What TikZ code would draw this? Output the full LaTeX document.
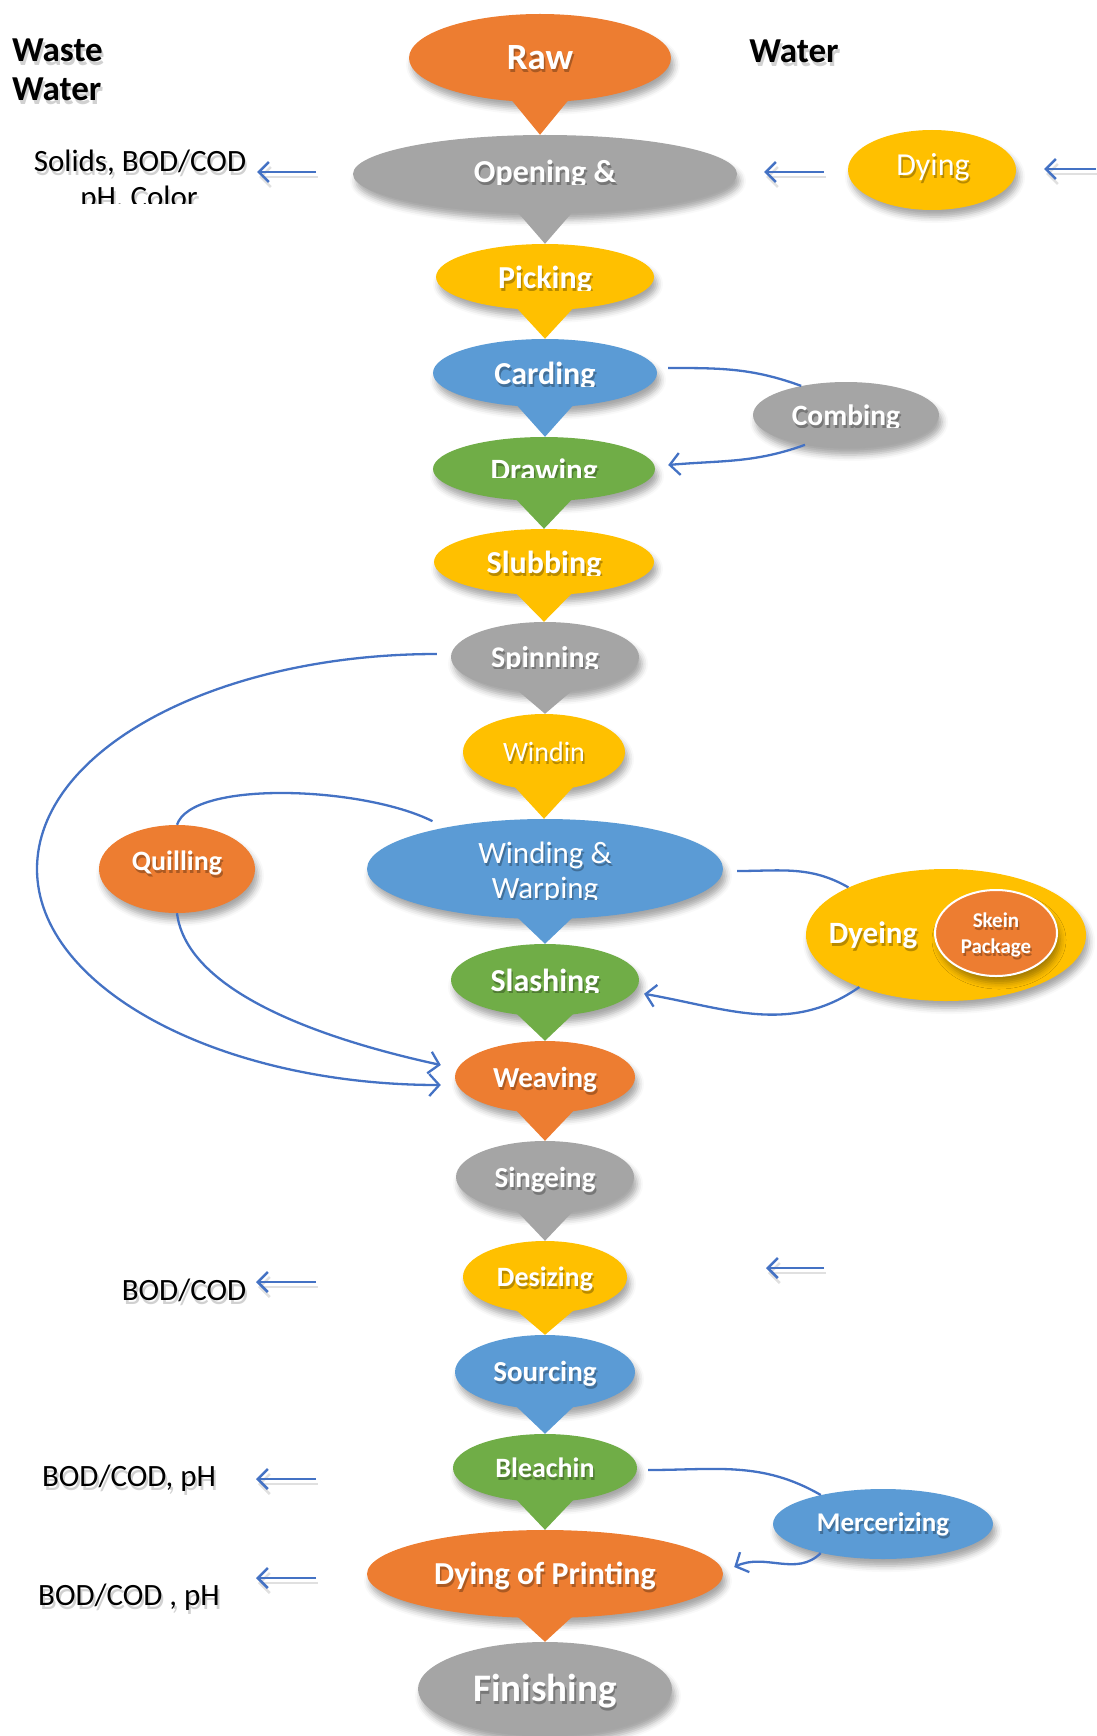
\documentclass[tikz,border=0pt]{standalone}
\usepackage{fontspec}
\setmainfont{Carlito}
\usetikzlibrary{shapes.geometric,arrows.meta,shadows.blur,calc}
\definecolor{cOrange}{HTML}{ED7D31}
\definecolor{cGray}{HTML}{A5A5A5}
\definecolor{cYellow}{HTML}{FFC000}
\definecolor{cBlue}{HTML}{5B9BD5}
\definecolor{cGreen}{HTML}{70AD47}
\definecolor{cLine}{HTML}{4472C4}
\newcommand{\fsz}[1]{\fontsize{#1pt}{#1pt}\selectfont}
% pointed tail from one process bubble down to the next
\newcommand{\tail}[3]{\fill[#3] ([shift={(-30,4)}]#1.south) -- ([shift={(30,4)}]#1.south) -- (#1.south |- #2.north) -- cycle;}
% white label with a soft dark shadow, cut off below a given height
% args: name, style, x, baseline y, cut y, text
\newcommand{\wlabel}[6]{%
  \begin{scope}
    \clip (#3-260,#4+80) rectangle (#3+260,#5);
    \node[wlab, #2, text=black, text opacity=0.28] (#1-sh) at (#3+1.5,#4-3) {#6};
    \node[wlab, #2] (#1) at (#3,#4) {#6};
  \end{scope}}
% black label with a grey shadow
\newcommand{\blabel}[6]{%
  \begin{scope}
    \clip (#3-300,#4+80) rectangle (#3+300,#5);
    \node[blab, #2, text=black!60, text opacity=0.3] (#1-sh) at (#3+2,#4-4) {#6};
    \node[blab, #2] (#1) at (#3,#4) {#6};
  \end{scope}}

\begin{document}
\begin{tikzpicture}[x=1pt,y=1pt,
  proc/.style={ellipse, inner sep=0pt,
    blur shadow={shadow xshift=3pt, shadow yshift=-7pt, shadow blur radius=6pt, shadow opacity=35}},
  wlab/.style={text=white, inner sep=0pt, anchor=base},
  blab/.style={text=black, inner sep=0pt, anchor=base},
  flow/.style={draw=cLine, line width=2.3pt},
  barb/.style={-{Straight Barb[length=10pt,width=22pt]}},
  shortarr/.style={draw=cLine, line width=2.5pt, -{Straight Barb[length=10pt,width=20pt]}},
]
\path[use as bounding box] (0,-1736) rectangle (1096,0);

% ---------- main process column ----------
\node[proc, fill=cOrange, minimum width=262, minimum height=88] (raw)       at (540,-58)   {};
\node[proc, fill=cGray,   minimum width=384, minimum height=78] (opening)   at (545,-174)  {};
\node[proc, fill=cYellow, minimum width=218, minimum height=66] (picking)   at (545,-277)  {};
\node[proc, fill=cBlue,   minimum width=224, minimum height=68] (carding)   at (545,-373)  {};
\node[proc, fill=cGreen,  minimum width=222, minimum height=64] (drawing)   at (544,-469)  {};
\node[proc, fill=cYellow, minimum width=220, minimum height=66] (slubbing)  at (544,-562)  {};
\node[proc, fill=cGray,   minimum width=188, minimum height=70] (spinning)  at (545,-657)  {};
\node[proc, fill=cYellow, minimum width=162, minimum height=76] (windin)    at (544,-752)  {};
\node[proc, fill=cBlue,   minimum width=356, minimum height=100] (winding)  at (545,-869)  {};
\node[proc, fill=cGreen,  minimum width=188, minimum height=72] (slashing)  at (545,-980)  {};
\node[proc, fill=cOrange, minimum width=180, minimum height=72] (weaving)   at (545,-1077) {};
\node[proc, fill=cGray,   minimum width=178, minimum height=72] (singeing)  at (545,-1177) {};
\node[proc, fill=cYellow, minimum width=164, minimum height=72] (desizing)  at (545,-1277) {};
\node[proc, fill=cBlue,   minimum width=180, minimum height=74] (sourcing)  at (545,-1372) {};
\node[proc, fill=cGreen,  minimum width=184, minimum height=68] (bleachin)  at (545,-1468) {};
\node[proc, fill=cOrange, minimum width=356, minimum height=88] (dyeprint)  at (545,-1574) {};
\node[proc, fill=cGray,   minimum width=254, minimum height=94] (finishing) at (545,-1689) {};

% ---------- side processes ----------
\node[proc, fill=cYellow, minimum width=168, minimum height=80] (dying)    at (932,-170)  {};
\node[proc, fill=cGray,   minimum width=186, minimum height=66] (combing)  at (846,-415)  {};
\node[proc, fill=cOrange, minimum width=156, minimum height=88] (quilling) at (177,-869)  {};
\node[proc, fill=cYellow, minimum width=280, minimum height=132] (dyeing)  at (946,-935)  {};
\node[proc, fill=cOrange, draw=white, line width=2pt, minimum width=122, minimum height=86] (skein) at (996,-933) {};
\node[proc, fill=cBlue,   minimum width=220, minimum height=70] (merc)     at (883,-1524) {};

% ---------- tails ----------
\tail{raw}{opening}{cOrange}
\tail{opening}{picking}{cGray}
\tail{picking}{carding}{cYellow}
\tail{carding}{drawing}{cBlue}
\tail{drawing}{slubbing}{cGreen}
\tail{slubbing}{spinning}{cYellow}
\tail{spinning}{windin}{cGray}
\tail{windin}{winding}{cYellow}
\tail{winding}{slashing}{cBlue}
\tail{slashing}{weaving}{cGreen}
\tail{weaving}{singeing}{cOrange}
\tail{singeing}{desizing}{cGray}
\tail{desizing}{sourcing}{cYellow}
\tail{sourcing}{bleachin}{cBlue}
\tail{bleachin}{dyeprint}{cGreen}
\tail{dyeprint}{finishing}{cOrange}

% ---------- labels in the bubbles ----------
\wlabel{raw-t}{font=\fsz{37}\bfseries}{540}{-70}{-200}{Raw}
\wlabel{opening-t}{font=\fsz{32}\bfseries}{545}{-183}{-185}{Opening \&}
\wlabel{picking-t}{font=\fsz{32}\bfseries}{545}{-288}{-290}{Picking}
\wlabel{carding-t}{font=\fsz{32}\bfseries}{545}{-384}{-386}{Carding}
\wlabel{drawing-t}{font=\fsz{31}\bfseries}{544}{-480}{-477}{Drawing}
\wlabel{slubbing-t}{font=\fsz{32}\bfseries}{544}{-573}{-575}{Slubbing}
\wlabel{spinning-t}{font=\fsz{30}\bfseries}{545}{-667}{-668}{Spinning}
\wlabel{windin-t}{font=\fsz{28}}{544}{-761}{-900}{Windin}
\wlabel{winding-t1}{font=\fsz{31}}{545}{-863}{-1000}{Winding \&}
\wlabel{winding-t2}{font=\fsz{31}}{545}{-898}{-899}{Warping}
\wlabel{slashing-t}{font=\fsz{32}\bfseries}{545}{-991}{-992}{Slashing}
\wlabel{weaving-t}{font=\fsz{29}\bfseries}{545}{-1087}{-1200}{Weaving}
\wlabel{singeing-t}{font=\fsz{29}\bfseries}{545}{-1187}{-1300}{Singeing}
\wlabel{desizing-t}{font=\fsz{28}\bfseries}{545}{-1286}{-1400}{Desizing}
\wlabel{sourcing-t}{font=\fsz{29}\bfseries}{545}{-1381}{-1500}{Sourcing}
\wlabel{bleachin-t}{font=\fsz{28}\bfseries}{545}{-1477}{-1600}{Bleachin}
\wlabel{dyeprint-t}{font=\fsz{32}\bfseries}{545}{-1584}{-1700}{Dying of Printing}
\wlabel{finishing-t}{font=\fsz{39}\bfseries}{545}{-1701}{-1800}{Finishing}

\wlabel{dying-t}{font=\fsz{32}}{933}{-176}{-300}{Dying}
\wlabel{combing-t}{font=\fsz{29.5}\bfseries}{846}{-425}{-427}{Combing}
\wlabel{quilling-t}{font=\fsz{28}\bfseries}{177}{-870}{-1000}{Quilling}
\wlabel{dyeing-t}{font=\fsz{31}\bfseries}{873}{-943}{-1100}{Dyeing}
\wlabel{skein-t1}{font=\fsz{21}\bfseries}{996}{-927}{-1100}{Skein}
\wlabel{skein-t2}{font=\fsz{21}\bfseries}{996}{-953}{-1100}{Package}
\wlabel{merc-t}{font=\fsz{27}\bfseries}{883}{-1531}{-1700}{Mercerizing}

% ---------- headings and effluent notes ----------
\blabel{waste1}{anchor=base west, font=\fsz{35}\bfseries}{12}{-62}{-200}{Waste}
\blabel{waste2}{anchor=base west, font=\fsz{35}\bfseries}{12}{-101}{-200}{Water}
\blabel{water}{font=\fsz{35}\bfseries}{794}{-63}{-200}{Water}

\blabel{solids}{font=\fsz{31}}{140}{-172}{-300}{Solids, BOD/COD}
\blabel{phcolor}{font=\fsz{31}}{139}{-208}{-204}{pH, Color}
\blabel{bod1}{font=\fsz{31}}{184}{-1300}{-1400}{BOD/COD}
\blabel{bod2}{font=\fsz{31}}{129}{-1486}{-1600}{BOD/COD, pH}
\blabel{bod3}{font=\fsz{31}}{129}{-1605}{-1700}{BOD/COD , pH}

% ---------- short inflow / outflow arrows ----------
\coordinate (aS1) at (316,-172);  \coordinate (aS0) at (257,-172);
\coordinate (aO1) at (824,-172);  \coordinate (aO0) at (764,-172);
\coordinate (aD1) at (1096,-169); \coordinate (aD0) at (1044,-169);
\coordinate (aB1) at (316,-1282); \coordinate (aB0) at (256,-1282);
\coordinate (aR1) at (824,-1268); \coordinate (aR0) at (766,-1268);
\coordinate (aP1) at (316,-1479); \coordinate (aP0) at (256,-1479);
\coordinate (aQ1) at (316,-1578); \coordinate (aQ0) at (256,-1578);
\foreach \a in {aS,aO,aD,aB,aR,aP,aQ}{
  \draw[shortarr, draw=black, opacity=0.12] ([shift={(2,-5)}]\a1) -- ([shift={(2,-5)}]\a0);
  \draw[shortarr] (\a1) -- (\a0);
}

% ---------- bypass loops ----------
\draw[flow] ([shift={(11,5)}]carding.east) to[out=0,in=160] (combing.147);
\draw[flow, barb] (combing.216) to[out=200,in=5] ([shift={(13,4)}]drawing.east);

\coordinate (loopL) at (37,-869);
\draw[flow, barb] ([shift={(-14,3)}]spinning.west)
  .. controls +(-221,0) and +(0,119) .. (loopL)
  .. controls +(0,-119) and +(-221,0) .. ([shift={(-14,-8)}]weaving.west);

\draw[flow] (quilling.north) .. controls +(15,45) and +(-70,35) .. ([shift={(-14,6)}]winding.157);
\draw[flow, barb] (quilling.south) .. controls +(10,-80) and +(-115,25) .. ([shift={(-14,12)}]weaving.west);

\draw[flow] ([shift={(14,-2)}]winding.east) to[out=0,in=150] (dyeing.154);
\draw[flow, barb] (dyeing.211) to[out=215,in=-10] ([xshift=12pt]slashing.-9);

\draw[flow] ([shift={(11,-2)}]bleachin.east) to[out=0,in=150] (merc.155);
\draw[flow, barb] (merc.205) to[out=225,in=25] ([shift={(11,7)}]dyeprint.east);

\end{tikzpicture}
\end{document}
